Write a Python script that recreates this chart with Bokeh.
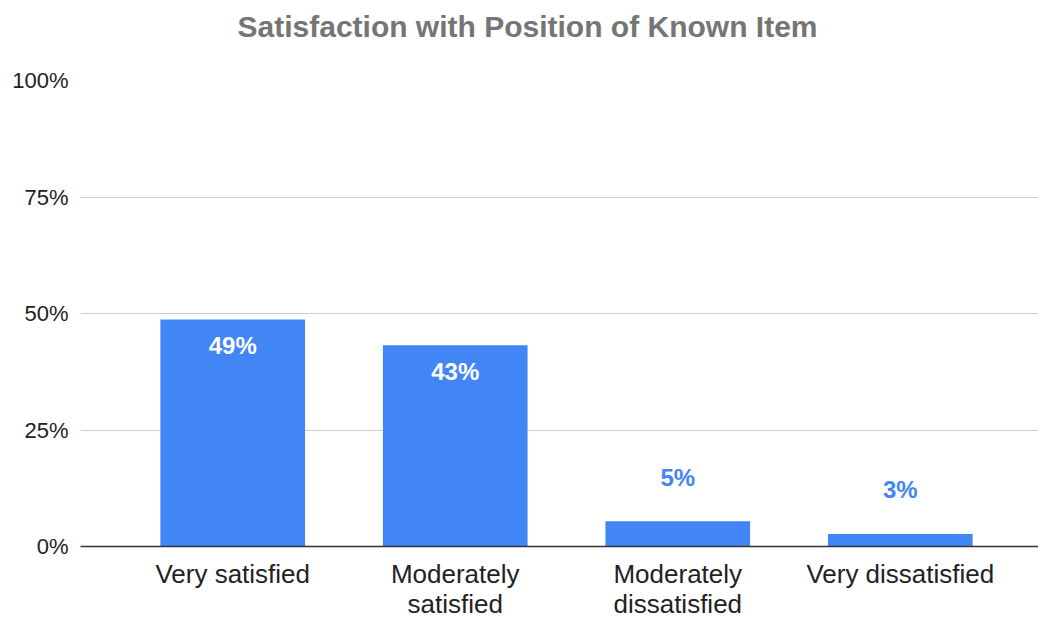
from bokeh.plotting import figure
from bokeh.models import ColumnDataSource, Range1d, FixedTicker, PrintfTickFormatter
from bokeh.core.properties import value
from bokeh.embed import file_html
from bokeh.resources import INLINE

# ---- data ----
categories = ["Very satisfied", "Moderately\nsatisfied", "Moderately\ndissatisfied", "Very dissatisfied"]
percent = [48.7, 43.2, 5.4, 2.7]
y_ticks = [0, 25, 50, 75, 100]

BLUE = "#4285F4"
FONT = "Liberation Sans"

xs = list(range(len(categories)))
inside = [v > 20 for v in percent]
src = ColumnDataSource(dict(
    x=xs,
    top=percent,
    label=[f"{round(v)}%" for v in percent],
    color=["#ffffff" if i else BLUE for i in inside],
    yoff=[26 if i else -44 for i in inside],
))

p = figure(width=1038, height=621, output_backend="svg", toolbar_location=None,
           x_range=Range1d(-0.684, 3.621), y_range=Range1d(0, 100),
           min_border_left=80, min_border_right=0, min_border_top=80, min_border_bottom=74,
           title="Satisfaction with Position of Known Item\n")
p.outline_line_color = None
p.background_fill_color = "white"
p.border_fill_color = "white"

p.title.text_font = FONT
p.title.text_font_size = "30px"
p.title.text_font_style = "bold"
p.title.text_color = "#757575"
p.title.align = "left"
p.title.offset = 157
p.title.standoff = 10

p.vbar(x="x", top="top", width=0.65, bottom=0, source=src, fill_color=BLUE, line_color=None)
p.text(x="x", y="top", text="label", source=src, text_color="color", y_offset="yoff",
       text_align="center", text_baseline="middle", text_font=value(FONT),
       text_font_size="24px", text_font_style="bold")

# y axis
p.yaxis.ticker = FixedTicker(ticks=y_ticks)
p.yaxis.formatter = PrintfTickFormatter(format="%d%%")
p.yaxis.axis_line_color = None
p.yaxis.major_tick_line_color = None
p.yaxis.minor_tick_line_color = None
p.yaxis.major_tick_out = 0
p.yaxis.minor_tick_out = 0
p.yaxis.major_label_text_font = FONT
p.yaxis.major_label_text_font_size = "22px"
p.yaxis.major_label_text_color = "#222222"
p.yaxis.major_label_standoff = 12

# x axis
p.xaxis.ticker = FixedTicker(ticks=xs)
p.xaxis.major_label_overrides = {i: c for i, c in zip(xs, categories)}
p.xaxis.axis_line_color = "#333333"
p.xaxis.axis_line_width = 1.5
p.xaxis.major_tick_line_color = None
p.xaxis.minor_tick_line_color = None
p.xaxis.major_tick_out = 0
p.xaxis.minor_tick_out = 0
p.xaxis.major_label_text_font = FONT
p.xaxis.major_label_text_font_size = "26px"
p.xaxis.major_label_text_color = "#222222"
p.xaxis.major_label_text_line_height = 1.0
p.xaxis.major_label_standoff = 12

p.xgrid.grid_line_color = None
p.ygrid.grid_line_color = "#cccccc"
p.ygrid.grid_line_width = 1.2

open("out.html", "w").write(file_html(p, INLINE))
